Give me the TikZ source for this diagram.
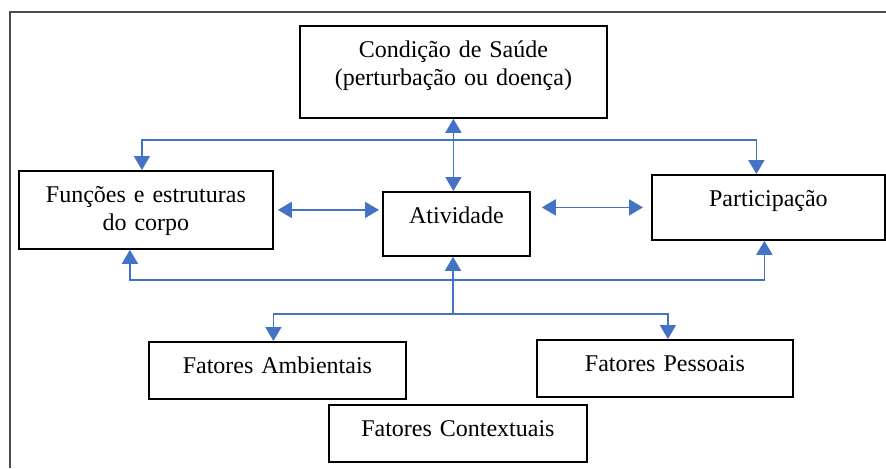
\documentclass[tikz,border=0pt]{standalone}
\usepackage{fontspec}
\setmainfont{Liberation Serif}
\usetikzlibrary{arrows.meta,positioning,calc}
\definecolor{icfblue}{HTML}{4472C4}
\definecolor{framegray}{HTML}{4D4D4D}
\tikzset{
	x=0.5pt,y=-0.5pt,
	box/.style={draw, line width=0.9pt, inner sep=0pt, anchor=north west, align=center,
		text height=16pt, font=\fontsize{12}{13.8}\selectfont},
	link/.style={draw=icfblue, line width=0.9pt, ->, >={Triangle[length=7pt,width=8pt]}},
	bilink/.style={link, <->}
}

\begin{document}
\begin{tikzpicture}
    \useasboundingbox (0,0) rectangle (886,468);
    \draw[framegray, line width=1.2pt] (10,468) -- (10,12) -- (886,12);

    \node[box, text width=153.5pt, text depth=30pt] (cond) at (299,25) {Condição de Saúde\\(perturbação ou doença)};
    \node[box, text width=127pt, text depth=23pt] (func) at (18,170) {Funções e estruturas\\do corpo};
    \node[box, text width=73.5pt, text depth=16pt] (ativ) at (382,191) {Atividade};
    \node[box, text width=116.5pt, text depth=16.5pt] (part) at (651,174) {Participação};
    \node[box, text width=128.5pt, text depth=12.5pt] (amb) at (148,341) {Fatores Ambientais};
    \node[box, text width=128pt, text depth=12.5pt] (pess) at (536,339) {Fatores Pessoais};
    \node[box, text width=129pt, text depth=12.5pt] (cont) at (328,404) {Fatores Contextuais};

    \coordinate (topbus) at (453,140);
    \coordinate (botbus) at (453,280);
    \coordinate (lowbus) at (453,314);

    \draw[bilink] (cond.south) -- (cond.south |- ativ.north);
    \draw[link] (topbus) -| ([xshift=-2pt]func.north);
    \draw[link] (topbus) -| ([xshift=-6pt]part.north);
    \draw[bilink, shorten <=2pt, shorten >=1.5pt] (func.east) -- (func.east -| ativ.west);
    \draw[bilink, shorten <=5.5pt, shorten >=4pt] (ativ.east |- part.west) -- (part.west);
    \draw[link] (lowbus) -- (lowbus |- ativ.south);
    \draw[link] (botbus) -| ([xshift=-8pt]func.south);
    \draw[link] (botbus) -| ([xshift=-2pt]part.south);
    \draw[link] (lowbus) -| ([xshift=-2pt]amb.north);
    \draw[link] (lowbus) -| ([xshift=1.5pt]pess.north);
\end{tikzpicture}
\end{document}
